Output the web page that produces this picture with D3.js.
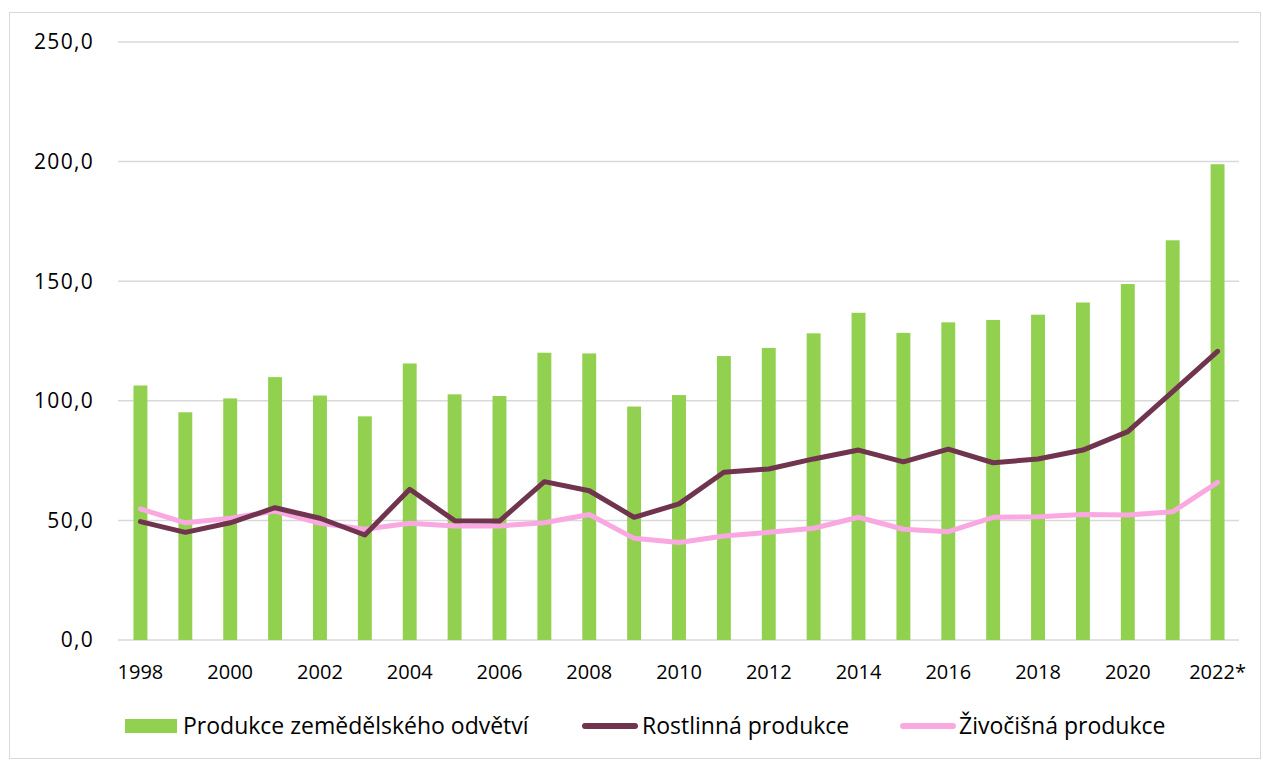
<!DOCTYPE html>
<html><head><meta charset="utf-8">
<script src="https://cdn.jsdelivr.net/npm/d3@7"></script>
<style>body{margin:0;background:#fff}svg{display:block}text{font-family:"Open Sans","Noto Sans",sans-serif;fill:#000}</style>
</head><body>
<script>
const years = ["1998","1999","2000","2001","2002","2003","2004","2005","2006","2007","2008","2009","2010","2011","2012","2013","2014","2015","2016","2017","2018","2019","2020","2021","2022*"];
const produkce = [106.4,95.2,101.0,109.9,102.2,93.5,115.6,102.7,102.0,120.1,119.8,97.6,102.4,118.7,122.1,128.2,136.8,128.4,132.8,133.8,136.0,141.1,148.8,167.1,198.9];
const rostlinna = [49.5,45.0,49.0,55.3,50.9,43.9,63.0,49.9,49.7,66.2,62.4,51.3,56.9,70.1,71.5,75.7,79.4,74.5,79.8,74.1,75.7,79.4,87.1,103.8,120.7];
const zivocisna = [54.8,49.0,50.9,53.9,48.8,46.3,48.8,47.7,47.7,49.0,52.5,42.5,40.8,43.5,45.0,46.7,51.3,46.3,45.3,51.3,51.5,52.5,52.3,53.6,65.9];
const yTicks = [0,50,100,150,200,250];
const seriesNames = ["Produkce zemědělského odvětví","Rostlinná produkce","Živočišná produkce"];
const colors = ["#92D050","#70344F","#F9A8E1"];

const W=1263,H=760;
const svg=d3.select("body").append("svg").attr("width",W).attr("height",H);
svg.append("rect").attr("x",9.5).attr("y",12.5).attr("width",W-12).attr("height",H-14).attr("fill","#fff").attr("stroke","#D9D9D9");

const x=d3.scaleBand().domain(years).range([118,1240]).paddingInner(0.69).paddingOuter(0.345);
const y=d3.scaleLinear().domain([0,250]).range([640,42]);

svg.append("g").selectAll("line").data(yTicks).join("line")
  .attr("x1",118).attr("x2",1239).attr("y1",d=>y(d)).attr("y2",d=>y(d))
  .attr("stroke","#D9D9D9").attr("stroke-width",1.5);

svg.append("g").selectAll("text").data(yTicks).join("text")
  .attr("x",94).attr("y",d=>y(d)).attr("dy","0.35em").attr("text-anchor","end")
  .attr("font-size",21).attr("letter-spacing","1.3px").text(d=>d3.format(".1f")(d).replace(".",","));

svg.append("g").selectAll("rect").data(produkce).join("rect")
  .attr("x",(d,i)=>x(years[i])).attr("width",x.bandwidth())
  .attr("y",d=>y(d)).attr("height",d=>y(0)-y(d)).attr("fill",colors[0]);

const cx=(d,i)=>x(years[i])+x.bandwidth()/2;
const line=d3.line().x(cx).y(d=>y(d));
svg.append("path").datum(zivocisna).attr("d",line).attr("fill","none").attr("stroke",colors[2]).attr("stroke-width",5).attr("stroke-linecap","round").attr("stroke-linejoin","round");
svg.append("path").datum(rostlinna).attr("d",line).attr("fill","none").attr("stroke",colors[1]).attr("stroke-width",5).attr("stroke-linecap","round").attr("stroke-linejoin","round");

svg.append("g").selectAll("text").data(years.filter((d,i)=>i%2===0)).join("text")
  .attr("x",d=>x(d)+x.bandwidth()/2).attr("y",672).attr("dy","0.35em").attr("text-anchor","middle")
  .attr("font-size",20).text(d=>d);

const lg=svg.append("g");
lg.append("rect").attr("x",125).attr("y",719).attr("width",52).attr("height",14).attr("fill",colors[0]);
lg.append("text").attr("x",183).attr("y",726).attr("dy","0.35em").attr("font-size",23).text(seriesNames[0]);
lg.append("line").attr("x1",585).attr("x2",635).attr("y1",726).attr("y2",726).attr("stroke",colors[1]).attr("stroke-width",6).attr("stroke-linecap","round");
lg.append("text").attr("x",642).attr("y",726).attr("dy","0.35em").attr("font-size",23).text(seriesNames[1]);
lg.append("line").attr("x1",903).attr("x2",953).attr("y1",726).attr("y2",726).attr("stroke",colors[2]).attr("stroke-width",6).attr("stroke-linecap","round");
lg.append("text").attr("x",959).attr("y",726).attr("dy","0.35em").attr("font-size",23).text(seriesNames[2]);
</script>
</body></html>
